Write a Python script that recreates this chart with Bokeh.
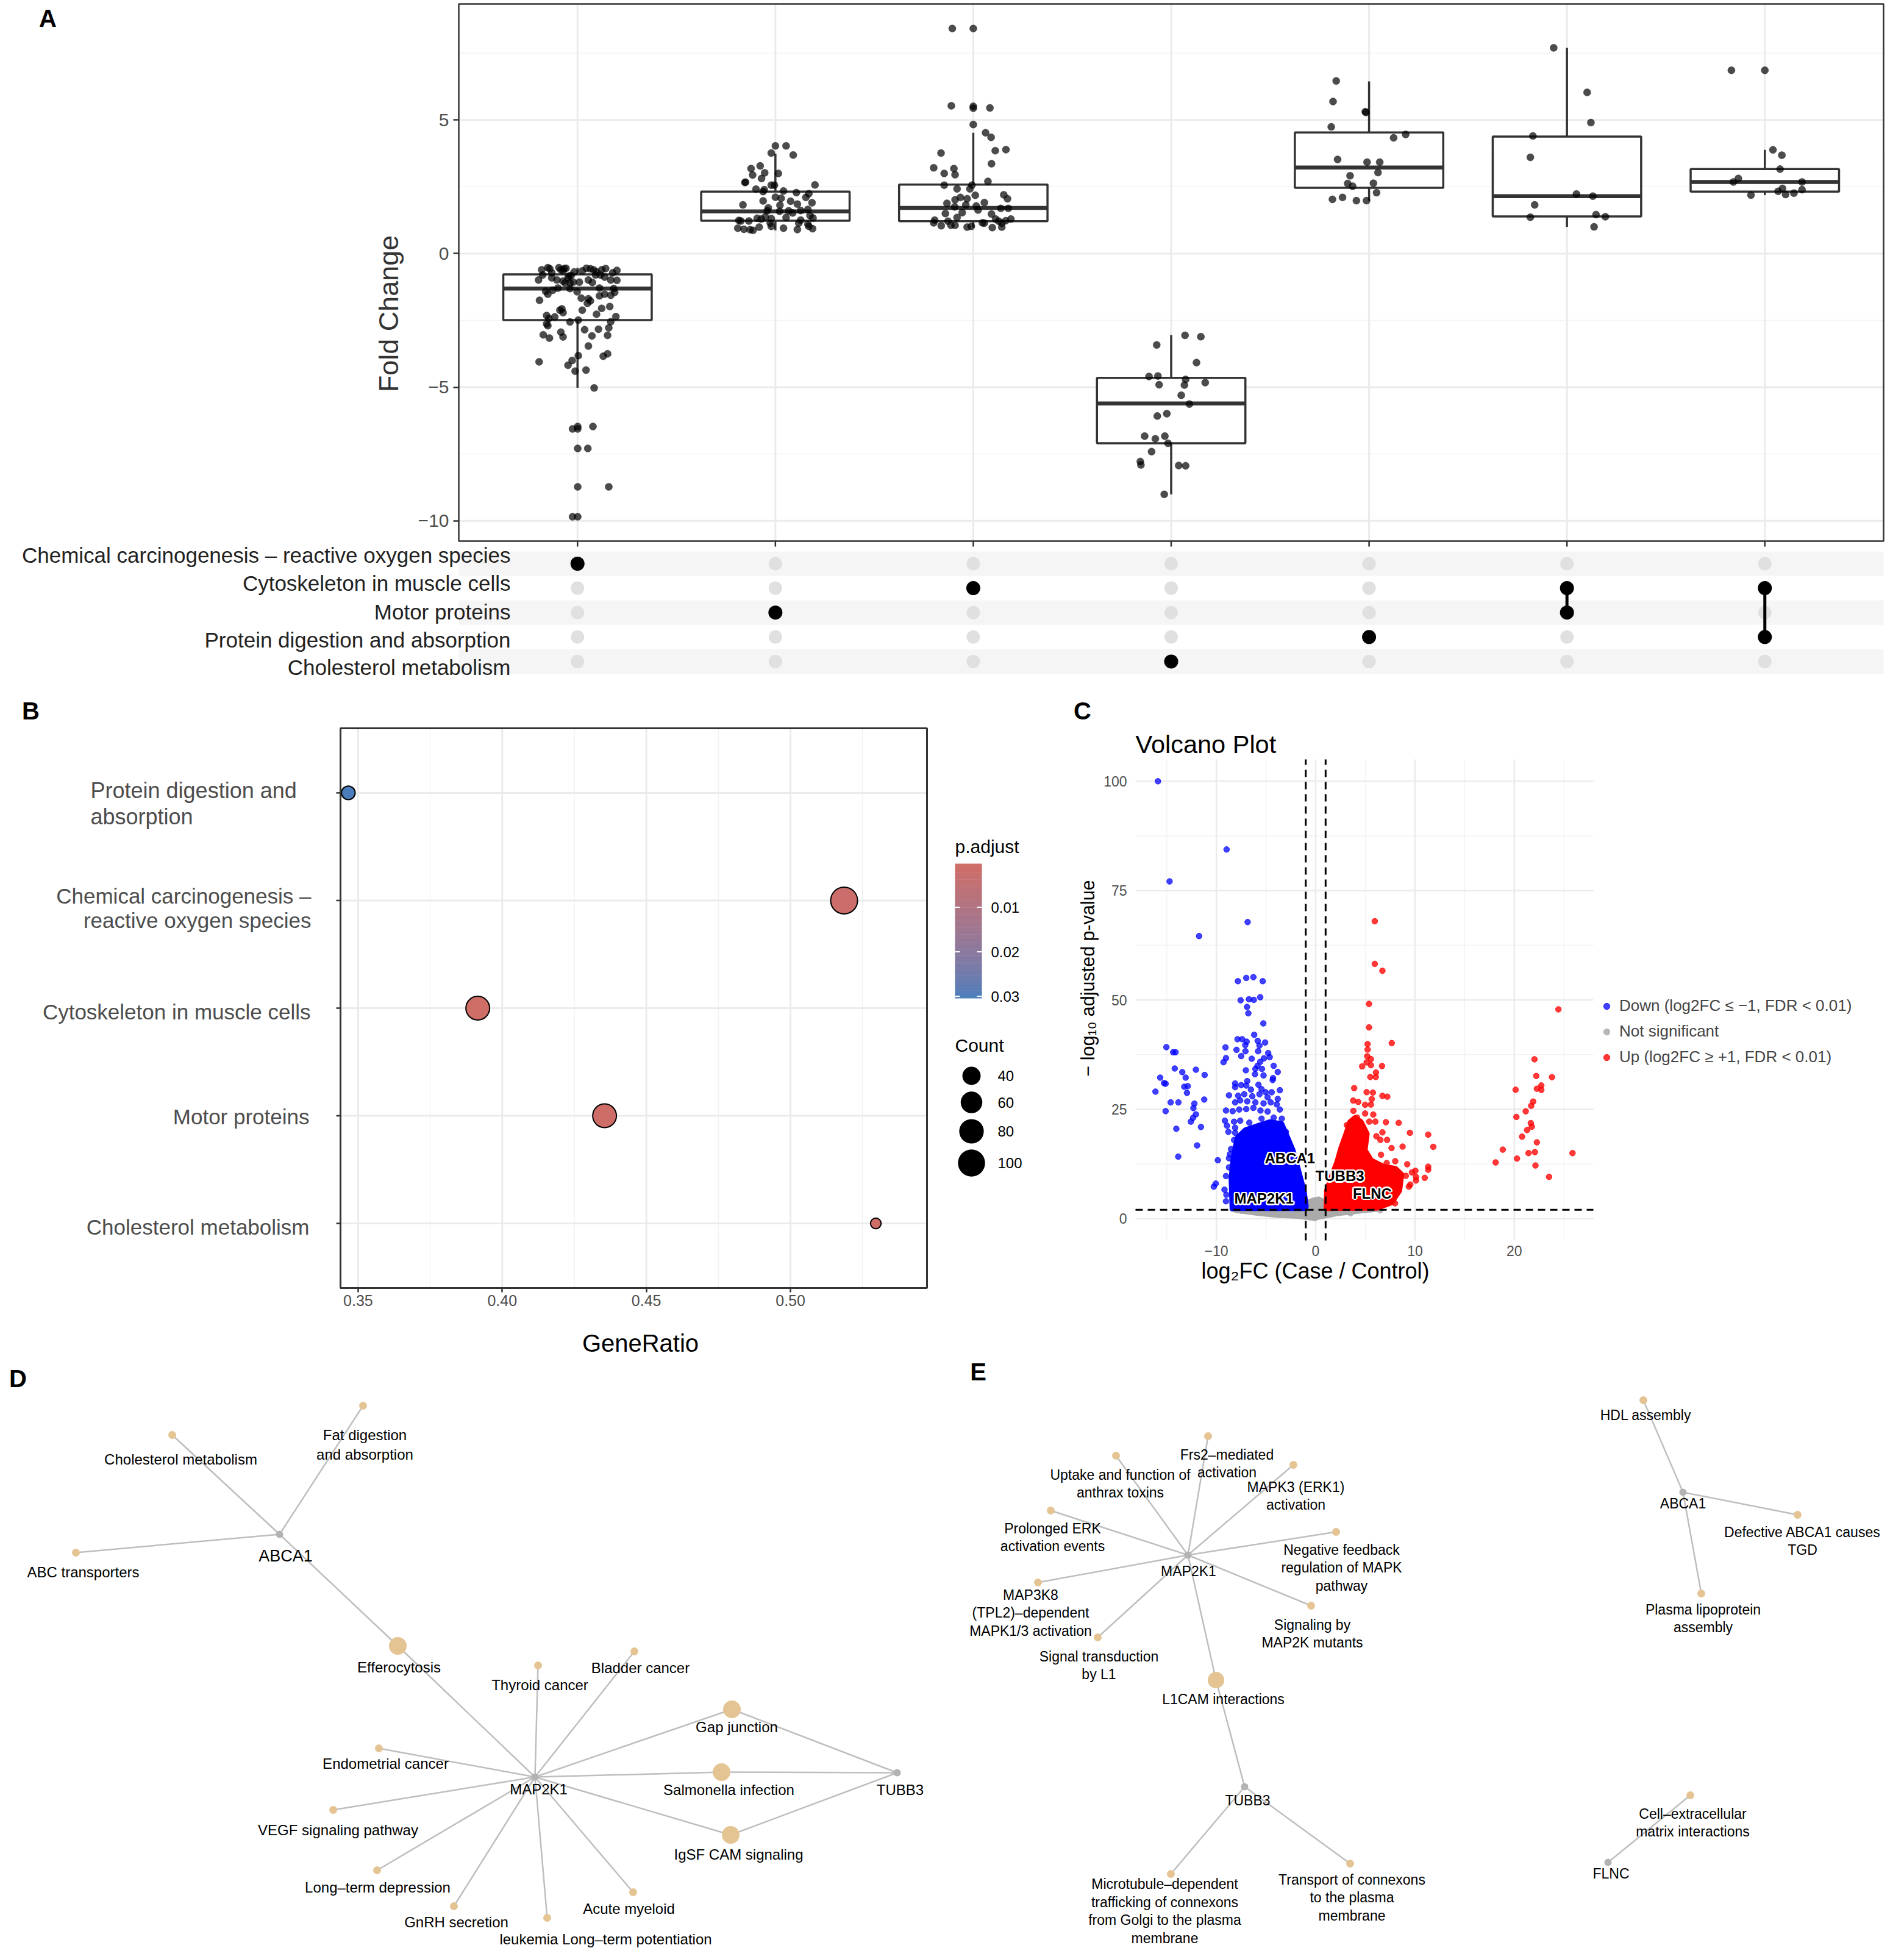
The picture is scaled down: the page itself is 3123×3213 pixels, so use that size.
import math
import numpy as np
from bokeh.plotting import figure
from bokeh.layouts import column, row
from bokeh.models import (Range1d, FixedTicker, LinearAxis, LinearColorMapper, Legend, LegendItem,
                          ColumnDataSource)
from bokeh.embed import file_html
from bokeh.resources import INLINE
from bokeh.core.properties import value

FONT = "Liberation Sans"
MINUS = "\u2212"

# ============================ DATA ============================
# ---- Panel A : fold change per intersection (UpSet style) ----
upset_sets = ["Chemical carcinogenesis \u2013 reactive oxygen species", "Cytoskeleton in muscle cells",
              "Motor proteins", "Protein digestion and absorption", "Cholesterol metabolism"]
upset_columns = [[0], [2], [1], [4], [3], [1, 2], [1, 3]]
box_q1 = [-2.49, 1.23, 1.21, -7.10, 2.46, 1.39, 2.32]
box_median = [-1.31, 1.58, 1.71, -5.61, 3.22, 2.15, 2.68]
box_q3 = [-0.78, 2.32, 2.58, -4.65, 4.53, 4.38, 3.16]
whisker_low = [-5.02, 0.87, 0.97, -9.01, 1.98, 1.00, 2.19]
whisker_high = [-0.53, 3.74, 4.52, -3.05, 6.44, 7.70, 3.88]
fc_ticks = [-10, -5, 0, 5]
fc_minor = [-7.5, -2.5, 2.5, 7.5]

# (jitter offset, fold change)
col1_points = [(-0.181, -0.61), (-0.150, -0.53), (-0.140, -0.57), (-0.094, -0.53), (-0.084, -0.61), (-0.068, -0.57),
               (-0.058, -0.55), (-0.073, -0.65), (-0.017, -0.69), (0.024, -0.65), (0.045, -0.55), (0.065, -0.57),
               (0.081, -0.61), (0.096, -0.69), (0.122, -0.61), (0.142, -0.56), (0.178, -0.72), (0.199, -0.63),
               (-0.176, -0.80), (-0.130, -0.72), (-0.043, -0.84), (-0.032, -0.82), (0.091, -0.80), (0.116, -0.80),
               (0.137, -0.88), (-0.197, -0.99), (-0.130, -0.91), (-0.104, -0.99), (-0.073, -1.03), (-0.063, -1.10),
               (-0.022, -1.07), (0.009, -1.07), (0.055, -0.99), (0.075, -1.08), (0.168, -0.99), (0.199, -1.00),
               (-0.048, -0.91), (-0.038, -1.10), (-0.161, -1.41), (-0.150, -1.52), (-0.125, -1.37), (-0.099, -1.29),
               (-0.038, -1.31), (-0.002, -1.43), (0.111, -1.29), (0.183, -1.31), (0.188, -1.45), (0.111, -1.58),
               (0.137, -1.52), (0.168, -1.56), (-0.192, -1.75), (0.019, -1.67), (0.055, -1.69), (0.065, -1.77),
               (0.050, -1.86), (-0.089, -2.12), (-0.079, -2.07), (-0.073, -2.21), (0.024, -2.12), (0.096, -2.27),
               (0.122, -2.05), (0.163, -1.98), (0.194, -2.36), (-0.156, -2.32), (-0.145, -2.43), (-0.156, -2.63),
               (-0.150, -2.70), (-0.115, -2.37), (-0.038, -2.56), (0.004, -2.49), (0.168, -2.55), (0.158, -2.78),
               (-0.173, -3.04), (-0.142, -3.16), (-0.084, -2.94), (-0.073, -3.12), (0.036, -2.85), (0.073, -3.08),
               (0.106, -2.83), (0.152, -3.06), (0.055, -3.46), (0.004, -3.82), (-0.027, -4.00), (-0.048, -4.18),
               (-0.012, -4.40), (0.043, -4.36), (0.130, -3.84), (0.152, -3.75), (-0.194, -4.05), (0.084, -5.03),
               (-0.025, -6.56), (0.001, -6.47), (0.001, -6.56), (0.078, -6.47), (0.001, -7.29), (0.052, -7.29),
               (0.001, -8.73), (0.158, -8.73), (-0.025, -9.85), (0.001, -9.85)]
col2_points = [(0.000, 4.03), (0.054, 4.03), (-0.021, 3.76), (0.090, 3.69), (-0.123, 3.18), (-0.077, 3.28),
               (-0.115, 2.94), (-0.054, 3.02), (-0.070, 2.81), (0.015, 3.00), (-0.154, 2.66), (-0.151, 2.67),
               (-0.021, 2.56), (-0.005, 2.56), (0.200, 2.57), (-0.098, 2.41), (-0.056, 2.39), (-0.062, 2.32),
               (0.041, 2.34), (0.106, 2.28), (0.169, 2.24), (0.154, 2.10), (0.000, 2.11), (0.029, 2.07),
               (-0.164, 1.82), (-0.062, 1.97), (0.077, 1.96), (0.111, 1.85), (0.185, 1.90), (0.023, 1.81),
               (-0.036, 1.71), (-0.041, 1.60), (0.021, 1.58), (0.067, 1.60), (0.087, 1.52), (0.128, 1.61),
               (0.164, 1.65), (0.175, 1.42), (0.054, 1.35), (-0.051, 1.37), (-0.072, 1.29), (-0.092, 1.32),
               (-0.021, 1.31), (-0.185, 1.24), (-0.175, 1.22), (-0.134, 1.22), (0.128, 1.25), (0.190, 1.33),
               (0.118, 1.14), (0.164, 1.10), (-0.026, 1.14), (-0.190, 0.95), (-0.159, 0.91), (-0.128, 0.89),
               (-0.113, 0.87), (-0.082, 0.99), (-0.021, 1.02), (0.041, 0.95), (0.111, 0.90), (0.188, 0.93),
               (0.169, 1.02)]
col3_points = [(-0.106, 8.42), (0.000, 8.42), (-0.111, 5.53), (0.000, 5.51), (0.000, 5.44), (0.084, 5.45),
               (0.000, 4.83), (0.062, 4.52), (0.090, 4.35), (-0.163, 3.76), (0.111, 3.85), (0.165, 3.89),
               (0.092, 3.36), (-0.200, 3.21), (-0.098, 3.18), (-0.147, 3.00), (-0.092, 2.95), (0.074, 2.70),
               (-0.147, 2.56), (-0.007, 2.56), (-0.017, 2.42), (-0.082, 2.42), (0.010, 2.18), (0.154, 2.20),
               (0.173, 2.05), (-0.065, 2.10), (-0.031, 2.05), (-0.092, 2.01), (-0.133, 1.88), (0.056, 1.91),
               (-0.038, 1.82), (0.015, 1.78), (-0.094, 1.75), (0.139, 1.69), (0.177, 1.69), (0.024, 1.63),
               (-0.056, 1.53), (-0.141, 1.50), (0.092, 1.48), (-0.082, 1.35), (-0.128, 1.21), (-0.195, 1.25),
               (-0.200, 1.15), (-0.162, 1.04), (-0.113, 1.06), (-0.092, 1.06), (-0.031, 0.99), (-0.010, 1.02),
               (0.046, 1.15), (0.056, 1.14), (0.113, 1.29), (0.128, 1.21), (0.144, 1.14), (0.164, 1.23),
               (0.190, 1.29), (0.096, 0.97), (0.144, 0.99)]
col4_points = [(0.070, -3.06), (0.150, -3.11), (-0.073, -3.42), (-0.112, -4.60), (-0.067, -4.58), (0.073, -4.71),
               (0.172, -4.83), (-0.061, -4.91), (0.067, -4.92), (0.128, -4.08), (0.051, -5.30), (0.092, -5.63),
               (-0.022, -5.99), (-0.070, -6.08), (-0.134, -6.83), (-0.080, -6.93), (-0.032, -6.83), (-0.016, -7.10),
               (-0.099, -7.41), (-0.156, -7.78), (-0.153, -7.91), (0.038, -7.93), (0.073, -7.94), (-0.035, -9.01)]
col5_points = [(-0.166, 6.46), (-0.182, 5.69), (-0.019, 5.31), (-0.016, 5.28), (-0.191, 4.74), (0.185, 4.46),
               (0.124, 4.33), (-0.159, 3.52), (-0.010, 3.42), (0.054, 3.42), (-0.096, 2.91), (0.045, 3.03),
               (-0.108, 2.62), (-0.083, 2.52), (0.022, 2.63), (0.038, 2.28), (-0.185, 2.03), (-0.134, 2.10),
               (-0.064, 1.98), (-0.013, 1.98)]
col6_points = [(-0.067, 7.70), (0.102, 6.03), (0.121, 4.90), (-0.172, 4.40), (-0.185, 3.60), (0.048, 2.23),
               (0.131, 2.15), (-0.163, 1.82), (0.147, 1.46), (0.194, 1.38), (-0.185, 1.36), (0.137, 1.00)]
col7_points = [(-0.169, 6.86), (0.000, 6.86), (0.041, 3.88), (0.086, 3.68), (0.077, 3.16), (-0.134, 2.81),
               (-0.159, 2.68), (0.188, 2.68), (0.089, 2.44), (0.067, 2.33), (0.188, 2.39), (0.105, 2.21),
               (0.147, 2.26), (-0.070, 2.19)]
fc_points = [col1_points, col2_points, col3_points, col4_points, col5_points, col6_points, col7_points]

# ---- Panel B : enrichment dot plot ----
pathways_b = ["Protein digestion and absorption", "Chemical carcinogenesis \u2013 reactive oxygen species",
              "Cytoskeleton in muscle cells", "Motor proteins", "Cholesterol metabolism"]
gene_ratio = [0.3466, 0.5186, 0.3915, 0.4355, 0.5296]
p_adjust = [0.0304, 0.0015, 0.0004, 0.0006, 0.0002]
gene_count = [23, 108, 83, 83, 11]
count_breaks = [40, 60, 80, 100]
padj_breaks = [0.01, 0.02, 0.03]
gr_ticks = [0.35, 0.40, 0.45, 0.50]
gr_minor = [0.375, 0.425, 0.475, 0.525]

# ---- Panel C : volcano ----
lfc_ticks = [-10, 0, 10, 20]
lfc_minor = [-15, -5, 5, 15, 25]
padj_ticks = [0, 25, 50, 75, 100]
padj_minor = [12.5, 37.5, 62.5, 87.5]
lfc_cut = [-1, 1]
fdr_cut = 2.0
blue_core = [(-8.42, 2.3), (-8.52, 9.16), (-8.32, 13.80), (-7.91, 18.45), (-7.09, 20.30), (-5.86, 21.23),
             (-4.63, 22.16), (-3.41, 21.70), (-2.79, 18.45), (-2.28, 15.66), (-1.77, 11.48), (-1.16, 6.37),
             (-0.95, 2.89), (-1.0, 2.3)]
red_core = [(1.05, 2.3), (1.09, 6.38), (1.50, 9.17), (2.12, 12.88), (2.53, 16.13), (3.04, 19.38), (3.45, 22.17),
            (3.96, 23.10), (4.57, 22.17), (5.19, 19.38), (4.98, 15.67), (5.60, 13.35), (6.82, 11.96), (8.05, 11.49),
            (8.67, 10.10), (8.46, 6.38), (7.64, 3.60), (6.21, 2.4)]
grey_core = [(-8.4, 2.1), (-1.05, 2.1), (-0.9, 3.6), (-0.3, 4.2), (0.3, 4.5), (0.9, 3.8), (1.05, 2.1), (6.2, 2.1),
             (5.2, 1.9), (2.1, 1.1), (0.3, 0.3), (-0.1, 0.0), (-1.8, 0.5), (-3.8, 0.7), (-5.9, 1.2), (-7.9, 1.8)]
grey_points = [(-0.6, 3.2), (0.2, 4.0), (0.6, 3.5), (-7.5, 1.8), (6.5, 1.9), (3.5, 1.2), (-3.5, 0.8), (-0.2, 1.0)]
blue_points = [(-7.83, 54.28), (-6.99, 55.03), (-6.27, 55.21), (-5.33, 54.28), (-7.56, 49.92), (-6.72, 50.15),
               (-6.23, 50.01), (-5.58, 50.62), (-6.91, 48.39), (-6.78, 46.95), (-5.27, 44.63), (-6.19, 42.03),
               (-7.87, 41.01), (-7.40, 41.01), (-6.95, 40.45), (-7.09, 39.66), (-5.84, 40.64), (-5.09, 40.26),
               (-5.66, 39.57), (-5.80, 38.27), (-9.08, 39.15), (-7.97, 38.59), (-7.07, 38.27), (-4.78, 37.85),
               (-4.63, 36.92), (-7.50, 37.15), (-5.21, 36.64), (-6.44, 36.55), (-9.03, 36.69), (-9.28, 35.76),
               (-5.58, 35.85), (-5.86, 34.93), (-6.07, 34.23), (-5.41, 34.23), (-7.03, 33.90), (-4.23, 34.93),
               (-3.82, 33.53), (-4.29, 32.14), (-5.25, 32.74), (-6.11, 33.02), (-4.33, 31.68), (-6.89, 31.44),
               (-8.11, 30.89), (-7.50, 30.52), (-6.99, 30.42), (-5.76, 30.61), (-8.11, 30.05), (-6.52, 29.49),
               (-5.45, 29.59), (-5.04, 28.89), (-4.43, 28.89), (-3.61, 29.35), (-8.73, 28.19), (-7.81, 28.10),
               (-7.19, 28.43), (-6.38, 27.96), (-5.66, 28.43), (-4.84, 27.73), (-3.82, 27.36), (-8.11, 26.57),
               (-7.60, 27.03), (-6.89, 26.80), (-6.07, 26.57), (-5.25, 26.34), (-4.53, 26.57), (-3.92, 26.11),
               (-9.03, 24.71), (-8.36, 24.57), (-7.70, 24.94), (-6.99, 25.04), (-6.27, 25.32), (-5.56, 24.71),
               (-4.84, 24.48), (-3.61, 24.94), (-9.14, 22.39), (-8.22, 22.16), (-7.60, 22.39), (-6.68, 21.93),
               (-5.45, 22.85), (-4.23, 23.09), (-3.41, 22.85), (-8.93, 21.23), (-8.11, 20.77), (-8.79, 19.84),
               (-8.11, 19.61), (-7.50, 19.14), (-6.78, 19.84), (-5.86, 19.14), (-4.84, 19.37), (-3.82, 18.91),
               (-3.00, 19.84), (-8.22, 17.98), (-7.50, 17.75), (-5.86, 18.21), (-4.02, 17.28), (-8.52, 15.89),
               (-8.63, 14.73), (-8.73, 13.80), (-7.81, 16.36), (-2.59, 15.89), (-9.85, 13.34), (-8.73, 11.71),
               (-9.03, 9.72), (-10.06, 8.00), (-10.26, 7.30), (-9.18, 6.61), (-8.99, 5.45), (-9.03, 3.96),
               (-8.32, 3.36), (-15.03, 39.20), (-14.35, 38.04), (-14.11, 38.04), (-14.19, 34.32), (-13.43, 33.49),
               (-13.09, 32.23), (-12.06, 34.04), (-11.18, 32.84), (-15.66, 32.23), (-15.27, 30.98), (-15.11, 30.84),
               (-13.23, 30.14), (-12.88, 30.28), (-12.96, 28.75), (-16.13, 29.03), (-14.60, 26.57), (-13.82, 26.57),
               (-12.21, 26.29), (-12.31, 25.27), (-11.22, 27.22), (-15.11, 24.57), (-12.06, 23.83), (-12.35, 23.04),
               (-12.57, 22.16), (-14.03, 20.54), (-11.55, 20.95), (-11.94, 16.73), (-13.84, 14.17),
               (-15.88, 100.0), (-8.97, 84.4), (-14.71, 77.1), (-6.85, 67.8), (-11.74, 64.6)]
red_points = [(5.95, 67.99), (5.95, 58.24), (6.72, 56.66), (5.37, 49.09), (5.37, 43.71), (7.66, 40.13), (5.23, 39.90),
              (5.23, 38.65), (5.19, 37.12), (5.56, 36.47), (5.13, 35.72), (4.68, 34.80), (5.56, 35.07), (6.68, 34.89),
              (6.07, 33.40), (5.50, 32.38), (6.05, 32.38), (3.88, 29.83), (5.13, 28.90), (5.76, 28.81), (6.72, 28.06),
              (7.21, 27.88), (5.64, 27.32), (3.78, 26.99), (4.29, 26.67), (4.98, 26.02), (5.56, 26.07), (3.80, 24.63),
              (4.98, 24.02), (5.80, 23.79), (4.16, 23.10), (5.39, 22.17), (6.01, 22.17), (7.07, 22.03), (8.36, 21.89),
              (3.14, 21.38), (9.49, 19.61), (11.33, 19.20), (6.72, 19.71), (6.11, 18.83), (7.19, 17.99), (6.52, 17.99),
              (7.64, 16.13), (8.75, 16.46), (11.84, 16.41), (6.58, 14.60), (8.01, 13.12), (7.15, 12.70), (9.22, 12.42),
              (11.33, 11.86), (11.33, 11.17), (10.04, 10.93), (9.69, 10.56), (9.08, 9.77), (10.10, 9.54), (10.98, 9.31),
              (10.10, 8.70), (9.53, 7.78), (9.38, 7.31), (7.99, 3.50), (2.22, 12.42), (3.35, 21.24),
              (24.44, 47.84), (22.03, 36.42), (22.21, 32.61), (23.79, 32.34), (22.72, 30.43), (22.27, 29.69),
              (22.72, 29.41), (20.13, 29.46), (21.90, 26.76), (21.70, 25.79), (21.15, 24.53), (20.21, 23.24),
              (21.66, 21.84), (21.76, 21.01), (21.29, 20.26), (20.78, 18.73), (22.27, 17.43), (18.84, 15.76),
              (22.07, 15.20), (21.43, 14.97), (25.86, 14.97), (20.27, 13.72), (18.12, 12.84), (22.13, 12.14),
              (23.50, 9.54)]
volcano_genes = ["ABCA1", "TUBB3", "MAP2K1", "FLNC"]
volcano_gene_x = [-2.59, 2.43, -5.21, 5.70]
volcano_gene_y = [13.8, 9.77, 4.61, 5.78]
volcano_legend = ["Down (log2FC \u2264 \u22121, FDR < 0.01)", "Not significant", "Up (log2FC \u2265 +1, FDR < 0.01)"]

# ---- Panel D : KEGG gene-concept network (layout coordinates) ----
d_names = ["ABCA1", "MAP2K1", "TUBB3", "Fat digestion\nand absorption", "Cholesterol metabolism", "ABC transporters",
           "Efferocytosis", "Thyroid cancer", "Bladder cancer", "Gap junction", "Endometrial cancer",
           "Salmonella infection", "VEGF signaling pathway", "IgSF CAM signaling", "Long\u2013term depression",
           "Acute myeloid", "GnRH secretion", "leukemia Long\u2013term potentiation"]
d_is_gene = [1, 1, 1] + [0] * 15
d_node_x = [466, 885, 1479, 603, 290, 132, 660, 890, 1048, 1208, 629, 1191, 554, 1206, 626, 1046, 752, 905]
d_node_y = [2524, 2922, 2915, 2313, 2361, 2554, 2707, 2739, 2716, 2811, 2875, 2914, 2976, 3017, 3075, 3111, 3134, 3153]
d_node_big = [0, 0, 0, 0, 0, 0, 1, 0, 0, 1, 0, 1, 0, 1, 0, 0, 0, 0]
d_label_x = [476, 891, 1484, 606, 304, 144, 662, 893, 1058, 1216, 640, 1203, 562, 1219, 627, 1039, 756, 1001]
d_label_y = [2559, 2942, 2943, 2377, 2401, 2586, 2742, 2771, 2743, 2840, 2900, 2943, 3009, 3049, 3103, 3138, 3160, 3188]
d_edges = [(0, 3), (0, 4), (0, 5), (0, 6), (1, 6), (1, 7), (1, 8), (1, 9), (1, 10), (1, 11), (1, 12), (1, 13),
           (1, 14), (1, 15), (1, 16), (1, 17), (2, 9), (2, 11), (2, 13)]

# ---- Panel E : Reactome gene-concept network (layout coordinates) ----
e_names = ["MAP2K1", "TUBB3", "ABCA1", "FLNC", "Frs2\u2013mediated\nactivation", "Uptake and function of\nanthrax toxins",
           "MAPK3 (ERK1)\nactivation", "Prolonged ERK\nactivation events",
           "Negative feedback\nregulation of MAPK\npathway", "MAP3K8\n(TPL2)\u2013dependent\nMAPK1/3 activation",
           "Signaling by\nMAP2K mutants", "Signal transduction\nby L1", "L1CAM interactions",
           "Microtubule\u2013dependent\ntrafficking of connexons\nfrom Golgi to the plasma\nmembrane",
           "Transport of connexons\nto the plasma\nmembrane", "HDL assembly", "Defective ABCA1 causes\nTGD",
           "Plasma lipoprotein\nassembly", "Cell\u2013extracellular\nmatrix interactions"]
e_is_gene = [1, 1, 1, 1] + [0] * 15
e_node_x = [1956, 2049, 2768, 2645, 1989, 1838, 2129, 1731, 2199, 1710, 2158, 1808, 2002, 1928, 2222, 2703, 2956, 2798, 2780]
e_node_y = [2558, 2938, 2455, 3062, 2363, 2395, 2410, 2485, 2520, 2603, 2641, 2693, 2763, 3081, 3064, 2304, 2492, 2621, 2952]
e_node_big = [0] * 12 + [1] + [0] * 6
e_label_x = [1957, 2054, 2768, 2650, 2020, 1845, 2133, 1734, 2208, 1698, 2160, 1810, 2014, 1918, 2225, 2707, 2964, 2801, 2784]
e_label_y = [2584, 2960, 2473, 3080, 2408, 2441, 2461, 2529, 2579, 2653, 2687, 2739, 2794, 3142, 3120, 2328, 2535, 2662, 2997]
e_edges = [(0, 4), (0, 5), (0, 6), (0, 7), (0, 8), (0, 9), (0, 10), (0, 11), (0, 12), (1, 12), (1, 13), (1, 14),
           (2, 15), (2, 16), (2, 17), (3, 18)]

# ============================ HELPERS ============================
ROW1_TOP, ROW1_BOT, ROW2_BOT, ROW3_BOT = 8, 1128, 2236, 3205


def new_fig(**kw):
    p = figure(output_backend="svg", toolbar_location=None, background_fill_color="white",
               border_fill_color="white", x_axis_location=None, y_axis_location=None,
               min_border_left=0, min_border_right=0, min_border_top=0, min_border_bottom=0, **kw)
    p.outline_line_color = None
    p.grid.visible = False
    return p


def ptext(p, x, y, text, size, align="center", baseline="middle", color="black", style="normal", angle=0.0,
          line_h=1.2):
    p.text(x=x if isinstance(x, list) else [x], y=y if isinstance(y, list) else [y],
           text=text if isinstance(text, list) else [text], x_range_name="px", y_range_name="py",
           text_align=align, text_baseline=baseline, text_font=value(FONT), text_font_size=f"{size}px",
           text_color=color, text_font_style=style, angle=angle, text_line_height=line_h)


def hlines(p, ys, x0, x1, color, width, **kw):
    p.segment(x0=[x0] * len(ys), x1=[x1] * len(ys), y0=ys, y1=ys, line_color=color, line_width=width, **kw)


def vlines(p, xs, y0, y1, color, width, **kw):
    p.segment(x0=xs, x1=xs, y0=[y0] * len(xs), y1=[y1] * len(xs), line_color=color, line_width=width, **kw)


def fixed_axis(p, side, loc, ticks, overrides, font_px, standoff, tick_out, color="#4D4D4D"):
    a = LinearAxis(fixed_location=loc, ticker=FixedTicker(ticks=ticks), major_label_overrides=overrides,
                   major_label_text_font=FONT, major_label_text_font_size=f"{font_px}px",
                   major_label_text_color=color, major_label_standoff=standoff, major_tick_out=tick_out,
                   major_tick_in=0, minor_tick_out=0, minor_tick_in=0, axis_line_color=None,
                   major_tick_line_color="#333333", major_tick_line_width=2.5)
    p.add_layout(a, side)


def _lin(c):
    return c / 12.92 if c <= 0.04045 else ((c + 0.055) / 1.055) ** 2.4


def _delin(c):
    return 12.92 * c if c <= 0.0031308 else 1.055 * c ** (1 / 2.4) - 0.055


def hex_to_lab(h):
    r, g, b = [_lin(int(h[i:i + 2], 16) / 255) for i in (1, 3, 5)]
    x = (0.4124 * r + 0.3576 * g + 0.1805 * b) / 0.95047
    y = 0.2126 * r + 0.7152 * g + 0.0722 * b
    z = (0.0193 * r + 0.1192 * g + 0.9505 * b) / 1.08883
    f = lambda t: t ** (1 / 3) if t > 0.008856 else 7.787 * t + 16 / 116
    fx, fy, fz = f(x), f(y), f(z)
    return 116 * fy - 16, 500 * (fx - fy), 200 * (fy - fz)


def lab_to_hex(L, a, b):
    fy = (L + 16) / 116
    fx = fy + a / 500
    fz = fy - b / 200
    finv = lambda t: t ** 3 if t ** 3 > 0.008856 else (t - 16 / 116) / 7.787
    x, y, z = finv(fx) * 0.95047, finv(fy), finv(fz) * 1.08883
    r = 3.2406 * x - 1.5372 * y - 0.4986 * z
    g = -0.9689 * x + 1.8758 * y + 0.0415 * z
    bb = 0.0557 * x - 0.2040 * y + 1.0570 * z
    cl = lambda c: int(min(255, max(0, round(_delin(max(0.0, c)) * 255))))
    return "#%02x%02x%02x" % (cl(r), cl(g), cl(bb))


def lab_palette(c0, c1, n=256):
    l0, l1 = hex_to_lab(c0), hex_to_lab(c1)
    return [lab_to_hex(*[l0[k] + (l1[k] - l0[k]) * i / (n - 1) for k in range(3)]) for i in range(n)]


def unzip(pts):
    return [q[0] for q in pts], [q[1] for q in pts]


# ============================ PANEL A ============================
cats = list(range(1, 8))
XMIN_A, XMAX_A, YMIN_A, YMAX_A = 0.4, 7.6, -10.76, 9.34
A_PX = 2337 / (XMAX_A - XMIN_A)       # px per category unit
A_PY = 881 / (YMAX_A - YMIN_A)        # px per fold-change unit
ax = lambda px: XMIN_A + (px - 760) / A_PX
ay = lambda py: YMAX_A - (py - 14) / A_PY
ROW_PX = 40.1
my = lambda py: 1 + (py - 932) / ROW_PX

figA = new_fig(width=3107, height=ROW1_BOT - ROW1_TOP, x_range=Range1d(ax(8), ax(3115)),
               y_range=Range1d(ay(ROW1_BOT), ay(ROW1_TOP)))
figA.extra_x_ranges = {"px": Range1d(8, 3115)}
figA.extra_y_ranges = {"py": Range1d(ROW1_BOT, ROW1_TOP), "mat": Range1d(my(ROW1_BOT), my(ROW1_TOP))}

hlines(figA, fc_minor, XMIN_A, XMAX_A, "#F4F4F4", 1.5)
hlines(figA, fc_ticks, XMIN_A, XMAX_A, "#EBEBEB", 3)
vlines(figA, cats, YMIN_A, YMAX_A, "#EBEBEB", 3)
fixed_axis(figA, "left", XMIN_A, fc_ticks, {-10: MINUS + "10", -5: MINUS + "5", 0: "0", 5: "5"}, 30, 7, 9)
vlines(figA, cats, YMIN_A, YMIN_A - 9 / A_PY, "#333333", 2.5)   # bottom axis ticks

half = 0.375
figA.segment(x0=cats, y0=box_q3, x1=cats, y1=whisker_high, line_color="#333333", line_width=3.5)
figA.segment(x0=cats, y0=whisker_low, x1=cats, y1=box_q1, line_color="#333333", line_width=3.5)
figA.quad(left=[c - half for c in cats], right=[c + half for c in cats], bottom=box_q1, top=box_q3,
          fill_color="white", line_color="#333333", line_width=3.5)
figA.segment(x0=[c - half for c in cats], y0=box_median, x1=[c + half for c in cats], y1=box_median,
             line_color="#333333", line_width=6.5)
px_all, py_all = [], []
for c, pts in zip(cats, fc_points):
    for j, v in pts:
        px_all.append(c + j)
        py_all.append(v)
figA.scatter(x=px_all, y=py_all, size=12, fill_color="black", line_color="black", fill_alpha=0.7,
             line_alpha=0.7, line_width=0.5)
figA.quad(left=XMIN_A, right=XMAX_A, bottom=YMIN_A, top=YMAX_A, fill_color=None, line_color="#333333",
          line_width=2.5)

# UpSet matrix
band_rows = [1, 3, 5]
figA.quad(left=XMIN_A, right=XMAX_A, top=[r - 0.5 for r in band_rows], bottom=[r + 0.5 for r in band_rows],
          fill_color="#F5F5F5", line_color=None, y_range_name="mat")
gx, gy = [], []
for c in cats:
    for r in range(1, 6):
        gx.append(c)
        gy.append(r)
figA.scatter(gx, gy, size=22, fill_color="#E0E0E0", line_color=None, y_range_name="mat")
bx_, by_, sx0, sy0, sy1 = [], [], [], [], []
for c, members in zip(cats, upset_columns):
    rows_ = [m + 1 for m in members]
    if len(rows_) > 1:
        sx0.append(c)
        sy0.append(min(rows_))
        sy1.append(max(rows_))
    for r in rows_:
        bx_.append(c)
        by_.append(r)
figA.segment(x0=sx0, y0=sy0, x1=sx0, y1=sy1, line_color="black", line_width=5, y_range_name="mat")
figA.scatter(bx_, by_, size=23, fill_color="black", line_color=None, y_range_name="mat")
label_pix = [918, 964, 1011, 1057, 1102]
ptext(figA, [845] * 5, label_pix, upset_sets, 35, align="right", color="#222222")
ptext(figA, 645, 522, "Fold Change", 45, color="#333333", angle=math.pi / 2)
ptext(figA, 86, 37, "A", 40, style="bold")

# ============================ PANEL B ============================
B_PX = 4728.0
B_PY = 176.54
bxf = lambda px: 0.35 + (px - 594.9) / B_PX
byf = lambda py: 1 + (py - 1307.9) / B_PY
XMIN_B, XMAX_B, YMIN_B, YMAX_B = bxf(566), bxf(1528), 0.4, 5.6
pal = lab_palette("#CF6D67", "#4A7EBB", 256)
pmin, pmax = min(p_adjust), max(p_adjust)
mapper = LinearColorMapper(palette=pal, low=pmin, high=pmax)
size_of = lambda cnt: math.sqrt(180 + 18 * cnt)

figB = new_fig(width=1692, height=ROW2_BOT - ROW1_BOT, x_range=Range1d(bxf(8), bxf(1700)),
               y_range=Range1d(byf(ROW2_BOT), byf(ROW1_BOT)))
figB.extra_x_ranges = {"px": Range1d(8, 1700)}
figB.extra_y_ranges = {"py": Range1d(ROW2_BOT, ROW1_BOT)}
rowsB = [1, 2, 3, 4, 5]
vlines(figB, gr_minor, YMIN_B, YMAX_B, "#F2F2F2", 1.5)
vlines(figB, gr_ticks, YMIN_B, YMAX_B, "#EBEBEB", 3)
hlines(figB, rowsB, XMIN_B, XMAX_B, "#EBEBEB", 3)
fixed_axis(figB, "below", YMAX_B, gr_ticks, {t: "%.2f" % t for t in gr_ticks}, 25, 5, 7)
hlines(figB, rowsB, XMIN_B - 7 / B_PX, XMIN_B, "#333333", 2.5)      # y axis ticks
srcB = ColumnDataSource(dict(x=gene_ratio, y=rowsB, padj=p_adjust, s=[size_of(c) - 2 for c in gene_count]))
figB.scatter(x="x", y="y", size="s", source=srcB, fill_color={"field": "padj", "transform": mapper},
             line_color="black", line_width=2)
figB.quad(left=XMIN_B, right=XMAX_B, bottom=YMIN_B, top=YMAX_B, fill_color=None, line_color="#333333",
          line_width=3)
b_lines = [("Protein digestion and", 156, 1304, "left"), ("absorption", 156, 1347, "left"),
           ("Chemical carcinogenesis \u2013", 518, 1477, "right"), ("reactive oxygen species", 518, 1517, "right"),
           ("Cytoskeleton in muscle cells", 517, 1667, "right"), ("Motor proteins", 515, 1839, "right"),
           ("Cholesterol metabolism", 515, 2020, "right")]
for t, lx, ly, al in b_lines:
    ptext(figB, lx, ly, t, 36 if al == "left" else 35, align=al, color="#4D4D4D")
ptext(figB, 1058, 2210, "GeneRatio", 40)
ptext(figB, 58, 1173, "B", 40, style="bold")

# legend of panel B (pixel layout)
CB_TOP, CB_BOT, CB_L, CB_R = 1424.0, 1644.5, 1574.0, 1618.0
val_to_pix = lambda v: CB_TOP + (v - pmin) / (pmax - pmin) * (CB_BOT - CB_TOP)
steps = np.linspace(pmin, pmax, 121)
srcCB = ColumnDataSource(dict(top=[val_to_pix(v) for v in steps[:-1]],
                              bottom=[val_to_pix(v) + 0.6 for v in steps[1:]],
                              v=list((steps[:-1] + steps[1:]) / 2)))
figB.quad(left=CB_L, right=CB_R, top="top", bottom="bottom", source=srcCB,
          fill_color={"field": "v", "transform": mapper}, line_color=None, x_range_name="px", y_range_name="py")
tick_y = [val_to_pix(v) for v in padj_breaks]
figB.segment(x0=[CB_L] * 3, x1=[CB_L + 8] * 3, y0=tick_y, y1=tick_y, line_color="white", line_width=2,
             x_range_name="px", y_range_name="py")
figB.segment(x0=[CB_R - 8] * 3, x1=[CB_R] * 3, y0=tick_y, y1=tick_y, line_color="white", line_width=2,
             x_range_name="px", y_range_name="py")
ptext(figB, [1633] * 3, tick_y, ["%.2f" % v for v in padj_breaks], 24, align="left")
ptext(figB, CB_L, 1396, "p.adjust", 30, align="left")
ptext(figB, CB_L, 1722, "Count", 30, align="left")
leg_y = [1772, 1815.5, 1863, 1915]
figB.scatter(x=[1601] * 4, y=leg_y, size=[size_of(c) for c in count_breaks], fill_color="black", line_color=None,
             x_range_name="px", y_range_name="py")
ptext(figB, [1644] * 4, leg_y, [str(c) for c in count_breaks], 24, align="left")

# ============================ PANEL C ============================
XMIN_C, XMAX_C, YMIN_C, YMAX_C = -18.14, 27.96, -5.0, 105.0
C_PX = 751 / (XMAX_C - XMIN_C)
C_PY = 789 / (YMAX_C - YMIN_C)
cxf = lambda px: XMIN_C + (px - 1870) / C_PX
cyf = lambda py: YMIN_C + (2042 - py) / C_PY
figC = new_fig(width=1415, height=ROW2_BOT - ROW1_BOT, x_range=Range1d(cxf(1700), cxf(3115)),
               y_range=Range1d(cyf(ROW2_BOT), cyf(ROW1_BOT)))
figC.extra_x_ranges = {"px": Range1d(1700, 3115)}
figC.extra_y_ranges = {"py": Range1d(ROW2_BOT, ROW1_BOT)}
vlines(figC, lfc_minor, YMIN_C, YMAX_C, "#F3F3F3", 1.5)
hlines(figC, padj_minor, XMIN_C, XMAX_C, "#F3F3F3", 1.5)
vlines(figC, lfc_ticks, YMIN_C, YMAX_C, "#EBEBEB", 2.5)
hlines(figC, padj_ticks, XMIN_C, XMAX_C, "#EBEBEB", 2.5)
fixed_axis(figC, "left", XMIN_C, padj_ticks, {t: str(t) for t in padj_ticks}, 23, 14, 0)
fixed_axis(figC, "below", YMIN_C, lfc_ticks, {-10: MINUS + "10", 0: "0", 10: "10", 20: "20"}, 23, 8, 0)

gcx, gcy = unzip(grey_core)
figC.patch(gcx, gcy, fill_color="#AAAAAA", line_color="#AAAAAA", line_width=8, line_join="round")
gpx, gpy = unzip(grey_points)
r_grey = figC.scatter(gpx, gpy, size=9.5, fill_color="#AAAAAA", line_color="#AAAAAA", alpha=0.85)
bcx, bcy = unzip(blue_core)
figC.patch(bcx, bcy, fill_color="#0000FF", line_color="#0000FF", line_width=8, line_join="round")
bpx, bpy = unzip(blue_points)
r_blue = figC.scatter(bpx, bpy, size=9.5, fill_color="#0000FF", line_color="#0000FF", alpha=0.75)
rcx, rcy = unzip(red_core)
figC.patch(rcx, rcy, fill_color="#FF0000", line_color="#FF0000", line_width=8, line_join="round")
rpx, rpy = unzip(red_points)
r_red = figC.scatter(rpx, rpy, size=9.5, fill_color="#FF0000", line_color="#FF0000", alpha=0.78)

vlines(figC, lfc_cut, YMIN_C, YMAX_C, "black", 3, line_dash="12 8")
hlines(figC, [fdr_cut], XMIN_C, XMAX_C, "black", 3, line_dash="12 8")

halo = [(2.5, 0), (-2.5, 0), (0, 2.5), (0, -2.5), (1.8, 1.8), (-1.8, 1.8), (1.8, -1.8), (-1.8, -1.8)]
for ox, oy in halo:
    figC.text(x=volcano_gene_x, y=volcano_gene_y, text=volcano_genes, x_offset=ox, y_offset=oy,
              text_align="center", text_baseline="middle", text_font=value(FONT), text_font_size="24px",
              text_font_style="bold", text_color="white")
figC.text(x=volcano_gene_x, y=volcano_gene_y, text=volcano_genes, text_align="center", text_baseline="middle",
          text_font=value(FONT), text_font_size="24px", text_font_style="bold", text_color="black")

legC = Legend(items=[LegendItem(label=volcano_legend[0], renderers=[r_blue]),
                     LegendItem(label=volcano_legend[1], renderers=[r_grey]),
                     LegendItem(label=volcano_legend[2], renderers=[r_red])],
              location=(2630 - 1700, ROW2_BOT - 1757), orientation="vertical", glyph_width=26, glyph_height=26,
              label_height=26, spacing=11, padding=0, margin=0, border_line_color=None, background_fill_alpha=0,
              label_text_font=FONT, label_text_font_size="26px", label_standoff=8)
figC.add_layout(legC, "center")
ptext(figC, 1870, 1228, "Volcano Plot", 41.5, align="left")
ptext(figC, 2165, 2092, "log\u2082FC (Case / Control)", 36)
ptext(figC, 1791, 1612, MINUS + " log\u2081\u2080 adjusted p-value", 30.5, angle=math.pi / 2)
ptext(figC, 1783, 1173, "C", 40, style="bold")

# ============================ PANELS D & E ============================
def network(p, names, is_gene, nx, ny, big, lx, ly, edges, big_size, font_sizes, line_h):
    p.multi_line([[nx[a], nx[b]] for a, b in edges], [[ny[a], ny[b]] for a, b in edges],
                 line_color="#BEBEBE", line_width=2.5)
    sizes = [12 if g else (big_size if b else 13) for g, b in zip(is_gene, big)]
    colors = ["#B3B3B3" if g else "#E5C494" for g in is_gene]
    p.scatter(nx, ny, size=sizes, fill_color=colors, line_color=None)
    p.text(x=lx, y=ly, text=names, text_align="center", text_baseline="middle", text_font=value(FONT),
           text_font_size=[f"{s}px" for s in font_sizes], text_color="black", text_line_height=line_h)


figD = new_fig(width=1584, height=ROW3_BOT - ROW2_BOT, x_range=Range1d(8, 1592), y_range=Range1d(ROW3_BOT, ROW2_BOT))
figD.extra_x_ranges = {"px": Range1d(8, 1592)}
figD.extra_y_ranges = {"py": Range1d(ROW3_BOT, ROW2_BOT)}
network(figD, d_names, d_is_gene, d_node_x, d_node_y, d_node_big, d_label_x, d_label_y, d_edges, 29,
        [27] + [24] * (len(d_names) - 1), 1.17)
ptext(figD, 37, 2268, "D", 40, style="bold")

figE = new_fig(width=1523, height=ROW3_BOT - ROW2_BOT, x_range=Range1d(1592, 3115),
               y_range=Range1d(ROW3_BOT, ROW2_BOT))
figE.extra_x_ranges = {"px": Range1d(1592, 3115)}
figE.extra_y_ranges = {"py": Range1d(ROW3_BOT, ROW2_BOT)}
network(figE, e_names, e_is_gene, e_node_x, e_node_y, e_node_big, e_label_x, e_label_y, e_edges, 27,
        [23] * len(e_names), 1.14)
ptext(figE, 1612, 2257, "E", 40, style="bold")

layout = column(figA, row(figB, figC), row(figD, figE))
open("out.html", "w").write(file_html(layout, INLINE))
